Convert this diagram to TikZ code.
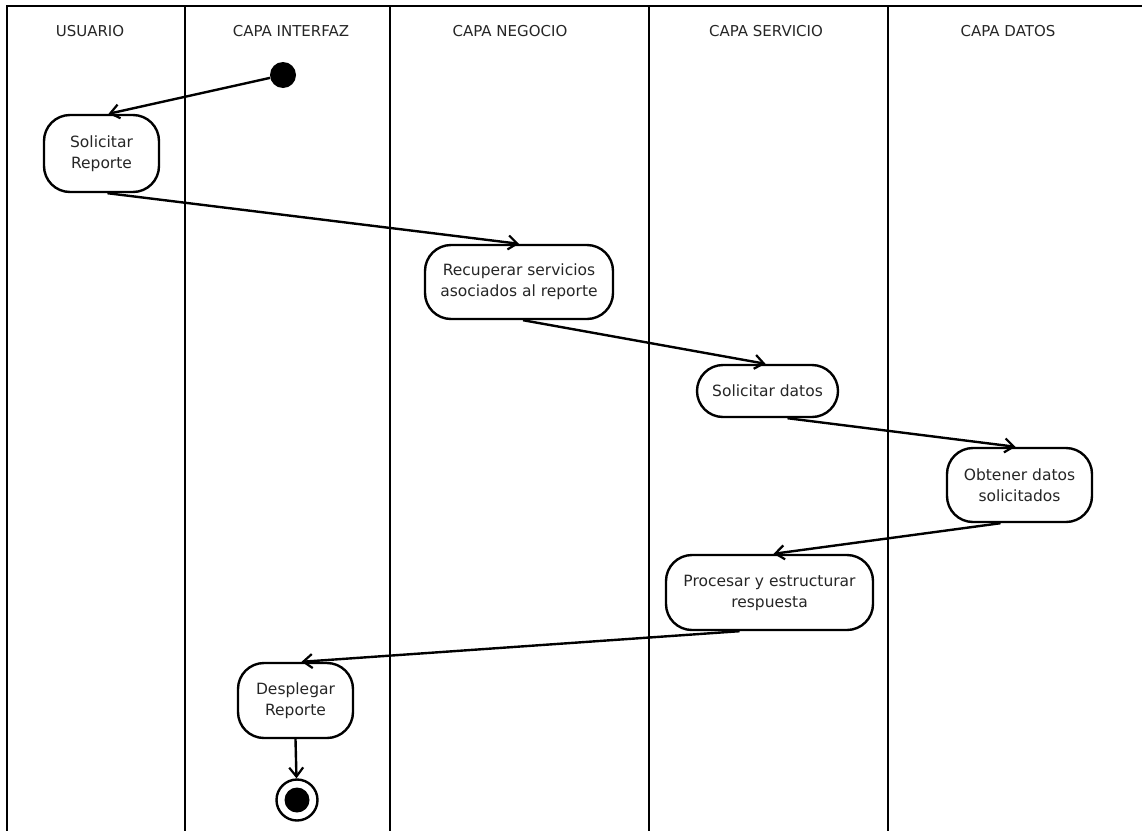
\documentclass[tikz,border=0pt]{standalone}
\usepackage{fontspec}
\setmainfont{DejaVu Sans}
\usetikzlibrary{arrows.meta,calc}
\begin{document}
\begin{tikzpicture}[x=1pt,y=-1pt,
  lane/.style={line width=2.8pt},
  lanetitle/.style={font=\fontsize{15}{18}\selectfont, inner sep=0pt, text=black!85},
  action/.style={draw, line width=2.4pt, rounded corners=26pt, align=center,
    inner sep=0pt, text=black!85, font=\fontsize{15.5}{21}\selectfont},
  flow/.style={line width=2.4pt, -{Straight Barb[length=9pt,width=14pt,line width=2.2pt]}},
]
\useasboundingbox[fill=white] (0,0) rectangle (1142,830);

% swimlane frame
\draw[lane] (7,831) -- (7,6) -- (1143,6);
\foreach \x in {185,390,649,888} \draw[lane] (\x,6) -- (\x,831);

% lane titles
\node[lanetitle] (tUsr) at (90,31)   {USUARIO};
\node[lanetitle] (tInt) at (291,31)  {CAPA INTERFAZ};
\node[lanetitle] (tNeg) at (510,31)  {CAPA NEGOCIO};
\node[lanetitle] (tSer) at (766,31)  {CAPA SERVICIO};
\node[lanetitle] (tDat) at (1008,31) {CAPA DATOS};

% initial and final nodes
\node[circle, fill, minimum size=26pt, inner sep=0pt] (init) at (283,75) {};
\node[circle, draw, line width=2.4pt, minimum size=41pt, inner sep=0pt] (fin) at (297,800) {};
\fill (fin.center) circle (12.5pt);

% actions
\node[action, minimum width=115pt, minimum height=77pt] (sol) at (101.5,153.5) {Solicitar\\Reporte};
\node[action, minimum width=188pt, minimum height=74pt] (rec) at (519,282) {Recuperar servicios\\asociados al reporte};
\node[action, minimum width=141pt, minimum height=52pt] (sd)  at (767.5,391) {Solicitar datos};
\node[action, minimum width=145pt, minimum height=74pt] (ob)  at (1019.5,485) {Obtener datos\\solicitados};
\node[action, minimum width=207pt, minimum height=75pt] (pr)  at (769.5,592.5) {Procesar y estructurar\\respuesta};
\node[action, minimum width=115pt, minimum height=75pt] (des) at (295.5,700.5) {Desplegar\\Reporte};

% control flow
\draw[flow] (init) -- ($(sol.north)+(7,0)$);
\draw[flow] ($(sol.south)+(6,0)$) -- (rec.north);
\draw[flow] ($(rec.south)+(4,0)$) -- ($(sd.north)+(-2,0)$);
\draw[flow] ($(sd.south)+(20,0)$) -- ($(ob.north)+(-4,0)$);
\draw[flow] ($(ob.south)+(-19,0)$) -- ($(pr.north)+(4,0)$);
\draw[flow] ($(pr.south)+(-30,0)$) -- ($(des.north)+(6,0)$);
\draw[flow] (des.south) -- (fin);
\end{tikzpicture}
\end{document}
